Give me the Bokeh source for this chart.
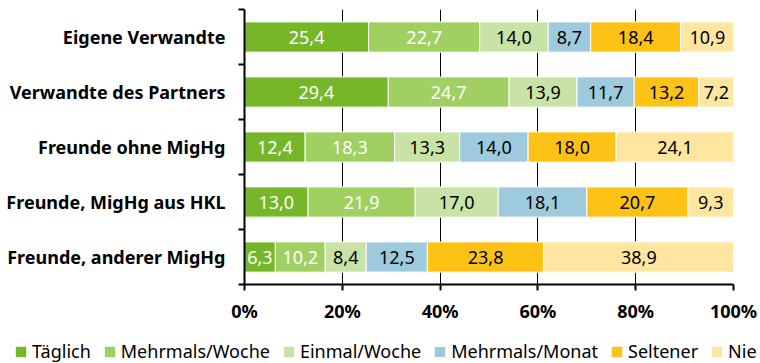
from bokeh.plotting import figure
from bokeh.models import ColumnDataSource, FixedTicker, Range1d, Legend, LegendItem
from bokeh.core.properties import value
from bokeh.embed import file_html
from bokeh.resources import INLINE

categories = ["Eigene Verwandte", "Verwandte des Partners", "Freunde ohne MigHg",
              "Freunde, MigHg aus HKL", "Freunde, anderer MigHg"]
series = ["Täglich", "Mehrmals/Woche", "Einmal/Woche", "Mehrmals/Monat", "Seltener", "Nie"]
taeglich = [25.4, 29.4, 12.4, 13.0, 6.3]
mehrmals_woche = [22.7, 24.7, 18.3, 21.9, 10.2]
einmal_woche = [14.0, 13.9, 13.3, 17.0, 8.4]
mehrmals_monat = [8.7, 11.7, 14.0, 18.1, 12.5]
seltener = [18.4, 13.2, 18.0, 20.7, 23.8]
nie = [10.9, 7.2, 24.1, 9.3, 38.9]
x_ticks = [0, 20, 40, 60, 80, 100]

colors = ["#76b72a", "#a0cf62", "#c8e3a5", "#9dcadc", "#fcc316", "#fee5a0"]
label_colors = ["white", "white", "black", "black", "black", "black"]
FONT = "Noto Sans"

values = [taeglich, mehrmals_woche, einmal_woche, mehrmals_monat, seltener, nie]
ypos = [i + 0.5 for i in range(len(categories))]
data = {"y": ypos}
for name, vals in zip(series, values):
    data[name] = vals
source = ColumnDataSource(data)

p = figure(width=760, height=338, output_backend="svg", toolbar_location=None,
           x_range=Range1d(0, 100), y_range=Range1d(len(categories), 0),
           min_border_left=244, min_border_right=27, min_border_top=9, min_border_bottom=54)
p.outline_line_color = None

renderers = p.hbar_stack(series, y="y", height=0.55, color=colors, line_color="white",
                         line_width=1, source=source)

# value labels
lx, ly, lt, lc = [], [], [], []
for j, vals in enumerate(values):
    for i, v in enumerate(vals):
        left = sum(values[k][i] for k in range(j))
        lx.append(left + v / 2)
        ly.append(ypos[i])
        lt.append(f"{v:.1f}".replace(".", ","))
        lc.append(label_colors[j])
lsrc = ColumnDataSource(dict(x=lx, y=ly, t=lt, c=lc))
p.text(x="x", y="y", text="t", text_color="c", source=lsrc, text_align="center",
       text_baseline="middle", text_font=value(FONT), text_font_size="18px")

# y axis
p.yaxis.ticker = FixedTicker(ticks=ypos, minor_ticks=list(range(len(categories) + 1)))
p.yaxis.major_label_overrides = {y: c for y, c in zip(ypos, categories)}
p.yaxis.major_tick_out = 0
p.yaxis.major_tick_in = 0
p.yaxis.minor_tick_out = 6
p.yaxis.minor_tick_in = 0
p.yaxis.minor_tick_line_color = "black"
p.yaxis.minor_tick_line_width = 2
p.yaxis.axis_line_color = "black"
p.yaxis.axis_line_width = 2
p.yaxis.major_label_text_font = FONT
p.yaxis.major_label_text_font_style = "bold"
p.yaxis.major_label_text_font_size = "18px"
p.yaxis.major_label_text_color = "black"
p.yaxis.major_label_standoff = 13

# x axis
p.xaxis.ticker = FixedTicker(ticks=x_ticks, minor_ticks=[])
p.xaxis.major_label_overrides = {t: f"{t}%" for t in x_ticks}
p.xaxis.major_tick_out = 6
p.xaxis.major_tick_in = 0
p.xaxis.major_tick_line_width = 2
p.xaxis.major_tick_line_color = "black"
p.xaxis.axis_line_color = "black"
p.xaxis.axis_line_width = 2
p.xaxis.major_label_text_font = FONT
p.xaxis.major_label_text_font_style = "bold"
p.xaxis.major_label_text_font_size = "18px"
p.xaxis.major_label_text_color = "black"
p.xaxis.major_label_standoff = 8

p.xgrid.ticker = FixedTicker(ticks=x_ticks)
p.xgrid.grid_line_color = "black"
p.xgrid.grid_line_width = 1
p.xgrid.grid_line_alpha = 1
p.ygrid.grid_line_color = None
p.xgrid.level = "underlay"

# legend strip: a separate root (not frame-aligned), its bars lie outside the visible range
pl = figure(width=760, height=25, output_backend="svg", toolbar_location=None,
            x_range=Range1d(0, 100), y_range=Range1d(100, 101),
            x_axis_type=None, y_axis_type=None,
            min_border_left=0, min_border_right=0, min_border_top=0, min_border_bottom=0)
pl.outline_line_color = None
pl.xgrid.grid_line_color = None
pl.ygrid.grid_line_color = None
leg_renderers = pl.hbar_stack(series, y="y", height=0.55, fill_color=colors,
                              line_color=None, source=source)

legend = Legend(items=[LegendItem(label=s, renderers=[r]) for s, r in zip(series, leg_renderers)],
                orientation="horizontal", location=(14, 0))
legend.label_text_font = FONT
legend.label_text_font_size = "18px"
legend.label_text_color = "black"
legend.glyph_width = 13
legend.glyph_height = 13
legend.label_standoff = 5
legend.spacing = 12
legend.padding = 0
legend.margin = 0
legend.border_line_color = None
legend.background_fill_alpha = 0
pl.add_layout(legend, "center")

open("out.html", "w").write(file_html([p, pl], INLINE))
